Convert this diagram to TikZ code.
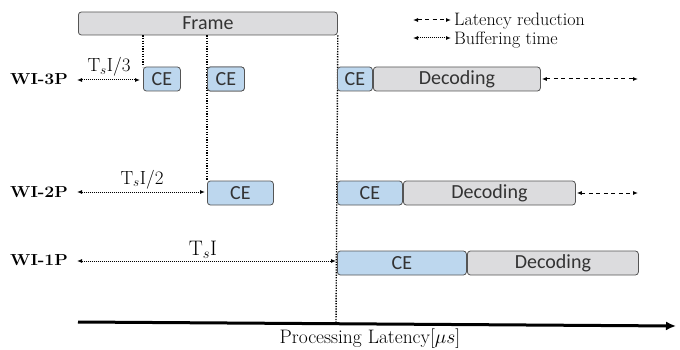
\RequirePackage{fix-cm}
\documentclass[tikz,border=0pt]{standalone}
\usepackage{fontspec}
\newfontfamily\boxfont{Carlito}
\usetikzlibrary{arrows.meta}
\definecolor{cefill}{HTML}{BDD7EE}
\definecolor{decfill}{HTML}{DCDCDE}
\definecolor{boxline}{HTML}{555555}
\definecolor{boxtext}{HTML}{333333}
\newcommand{\rowtext}[1]{\scalebox{1.1}[1]{\fontsize{16}{18}\bfseries #1}}
\begin{document}
\begin{tikzpicture}[x=1pt,y=-1pt,
  blk/.style={draw=boxline, line width=0.8pt, rounded corners=3pt, inner sep=0pt,
    minimum height=24pt, anchor=west, text=boxtext,
    font=\boxfont\fontsize{20}{22}\selectfont},
  ceb/.style={blk, fill=cefill},
  decb/.style={blk, fill=decfill},
  rowlab/.style={inner sep=0pt, anchor=base},
  tlab/.style={font=\fontsize{19}{21}\selectfont, inner sep=0pt},
  leglab/.style={font=\fontsize{18}{20}\selectfont, inner sep=0pt, anchor=base west},
  tip/.tip={Latex[length=5pt,width=4pt]},
  bufarrow/.style={line width=1pt, dash pattern=on 1pt off 1pt, tip-tip},
  redarrow/.style={line width=1pt, dash pattern=on 4pt off 3.5pt, tip-tip},
  vdot/.style={line width=1.4pt, dash pattern=on 1.3pt off 1.3pt}
]
\useasboundingbox (0,0) rectangle (680,350);

% Frame
\node[decb, minimum width=259pt, minimum height=23pt] (frame) at (78,23.5) {Frame};

% Legend
\coordinate (l1a) at (413,20); \coordinate (l1b) at (451,20);
\coordinate (l2a) at (413,38); \coordinate (l2b) at (451,38);
\draw[redarrow] (l1a) -- (l1b);
\draw[bufarrow] (l2a) -- (l2b);
\node[leglab] (leg1) at (454,26) {Latency reduction};
\node[leglab] (leg2) at (454,44.5) {Buffering time};

% Row WI-3P
\node[ceb, minimum width=37pt] (ce11) at (143,79) {CE};
\node[ceb, minimum width=37pt] (ce12) at (207,79) {CE};
% Row WI-2P
\node[ceb, minimum width=66pt] (ce22) at (207,193) {CE};

% Axis coordinates
\coordinate (axA) at (78,322);
\coordinate (axB) at (676,326);
\coordinate (v3end) at (336,324);

% vertical dotted lines
\draw[vdot] (ce11.north west |- frame.south) -- (ce11.north west);
\draw[vdot] (ce12.north west |- frame.south) -- (ce22.north west);
\draw[vdot] (frame.south east) -- (v3end);

% redraw row-1 box over the dotted line
\node[ceb, minimum width=37pt] at (207,79) {CE};

\node[ceb, minimum width=35pt] (ce13) at (337,79) {CE};
\node[decb, minimum width=167pt] (dec1) at (373,79) {Decoding};
\node[ceb, minimum width=65pt] (ce23) at (337,193) {CE};
\node[decb, minimum width=172pt] (dec2) at (403,193) {Decoding};
\node[ceb, minimum width=129pt] (ce33) at (337,263) {CE};
\node[decb, minimum width=171pt] (dec3) at (467,263) {Decoding};

% row labels
\node[rowlab] (w3) at (39,85) {\rowtext{WI-3P}};
\node[rowlab] (w2) at (39,197.5) {\rowtext{WI-2P}};
\node[rowlab] (w1) at (39,265) {\rowtext{WI-1P}};

\coordinate (b1) at (77,80);
\coordinate (b2) at (77,192);
\coordinate (b3) at (77,261);
\draw[bufarrow] (b1) -- ([xshift=-3pt]ce11.west |- b1);
\draw[bufarrow] (b2) -- ([xshift=-2pt]ce22.west |- b2);
\draw[bufarrow] (b3) -- ([xshift=-1pt]ce33.west |- b3);
\node[tlab, anchor=base] (t1) at (109,71.5) {T$_s$I$/3$};
\node[tlab, anchor=base] (t2) at (142,184) {T$_s$I$/2$};
\node[tlab, anchor=base, font=\fontsize{21}{23}\selectfont] (t3) at (203,255) {T$_s$I};

% latency reduction arrows
\coordinate (r1) at (638,79);
\coordinate (r2) at (638,193);
\draw[redarrow] ([xshift=1pt]dec1.east) -- (r1);
\draw[redarrow] ([xshift=1pt]dec2.east) -- (r2);

% axis
\draw[line width=3pt, -{Latex[length=10pt,width=9pt]}] (axA) -- (axB);
\node[tlab, anchor=base, font=\fontsize{19.5}{21}\selectfont] (axl) at (370,343.5) {Processing Latency[$\mu s$]};
\end{tikzpicture}
\end{document}
